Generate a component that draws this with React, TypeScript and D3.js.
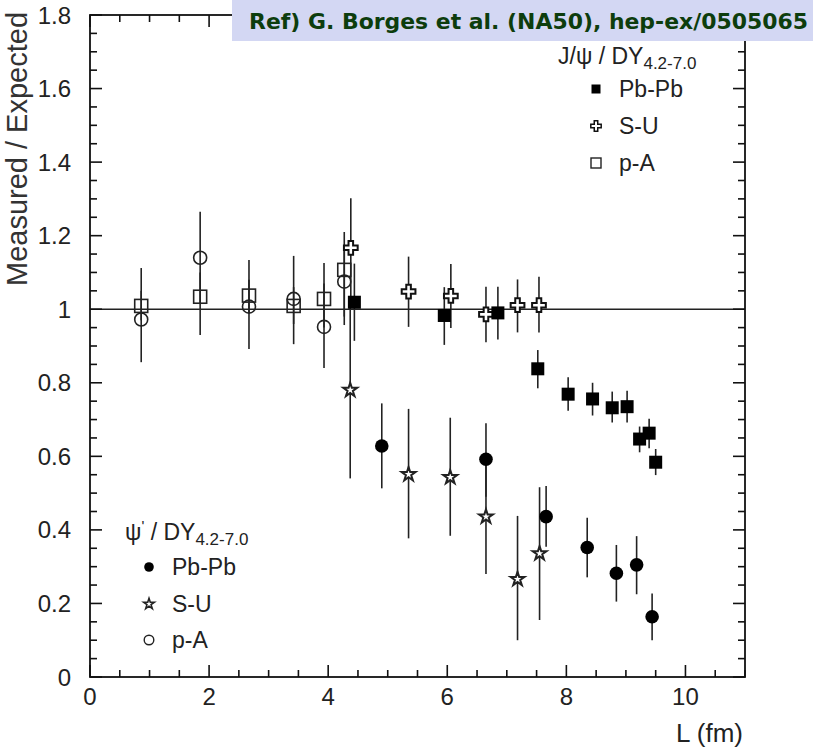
import React from "react";
import * as d3 from "d3";

// ---------- data ----------
const xTicks = [0, 2, 4, 6, 8, 10];
const yTicks = [0, 0.2, 0.4, 0.6, 0.8, 1, 1.2, 1.4, 1.6, 1.8];
const yTickLabels = ["0", "0.2", "0.4", "0.6", "0.8", "1", "1.2", "1.4", "1.6", "1.8"];

// J/psi p-A (open squares)
const jpA_L = [0.86, 1.85, 2.67, 3.42, 3.93, 4.27];
const jpA_v = [1.009, 1.034, 1.037, 1.009, 1.028, 1.107];
const jpA_lo = [0.97, 0.93, 0.99, 0.96, 0.95, 0.957];
const jpA_hi = [1.05, 1.10, 1.08, 1.06, 1.126, 1.21];

// psi' p-A (open circles)
const ppA_L = [0.86, 1.85, 2.67, 3.42, 3.93, 4.27];
const ppA_v = [0.972, 1.14, 1.007, 1.028, 0.952, 1.075];
const ppA_lo = [0.856, 1.015, 0.892, 0.905, 0.84, 0.98];
const ppA_hi = [1.112, 1.265, 1.134, 1.145, 1.07, 1.17];

// J/psi S-U (open crosses)
const jSU_L = [4.38, 5.35, 6.06, 6.65, 7.18, 7.54];
const jSU_v = [1.167, 1.048, 1.036, 0.986, 1.011, 1.011];
const jSU_lo = [1.03, 0.952, 0.949, 0.91, 0.937, 0.937];
const jSU_hi = [1.302, 1.143, 1.123, 1.061, 1.081, 1.088];

// J/psi Pb-Pb (filled squares)
const jPb_L = [4.44, 5.95, 6.85, 7.52, 8.03, 8.44, 8.77, 9.02, 9.23, 9.39, 9.5];
const jPb_v = [1.019, 0.983, 0.99, 0.838, 0.769, 0.756, 0.732, 0.735, 0.647, 0.663, 0.584];
const jPb_lo = [0.914, 0.903, 0.918, 0.785, 0.724, 0.711, 0.692, 0.692, 0.611, 0.622, 0.549];
const jPb_hi = [1.124, 1.06, 1.061, 0.889, 0.815, 0.8, 0.776, 0.778, 0.681, 0.702, 0.62];

// psi' S-U (open stars)
const pSU_L = [4.37, 5.35, 6.05, 6.65, 7.18, 7.55];
const pSU_v = [0.78, 0.551, 0.543, 0.436, 0.266, 0.336];
const pSU_lo = [0.54, 0.377, 0.384, 0.28, 0.1, 0.155];
const pSU_hi = [1.03, 0.729, 0.705, 0.586, 0.438, 0.516];

// psi' Pb-Pb (filled circles)
const pPb_L = [4.9, 6.65, 7.66, 8.35, 8.84, 9.18, 9.44];
const pPb_v = [0.628, 0.592, 0.436, 0.352, 0.282, 0.305, 0.164];
const pPb_lo = [0.513, 0.49, 0.354, 0.271, 0.205, 0.225, 0.1];
const pPb_hi = [0.744, 0.69, 0.519, 0.433, 0.359, 0.383, 0.227];

// ---------- layout ----------
const W = 813;
const H = 748;
const left = 90, right = 745, top = 15, bottom = 677;
const FONT = "'Liberation Sans', Arial, sans-serif";

export default function App() {
  const x = d3.scaleLinear().domain([0, 11]).range([left, right]);
  const y = d3.scaleLinear().domain([0, 1.8]).range([bottom, top]);

  const xMinor = d3.range(0, 11.001, 0.5);
  const yMinor = d3.range(0, 1.8001, 0.05);
  const isMajorX = (v: number) => Math.abs(v / 2 - Math.round(v / 2)) < 1e-6;
  const isMajorY = (v: number) => Math.abs(v / 0.2 - Math.round(v / 0.2)) < 1e-6;

  const crossPath = d3.symbol().type(d3.symbolCross).size(105)()!;
  const crossPathSm = d3.symbol().type(d3.symbolCross).size(60)()!;
  const starPath = d3.symbol().type(d3.symbolStar).size(60)()!;
  const starPathSm = d3.symbol().type(d3.symbolStar).size(36)()!;

  const err = (Ls: number[], lo: number[], hi: number[], key: string) =>
    Ls.map((L, i) => (
      <line key={key + i} x1={x(L)} x2={x(L)} y1={y(lo[i])} y2={y(hi[i])} stroke="#222" strokeWidth={1.6} />
    ));

  const sq = 13;
  const osq = 13;
  const LF = 23;
  const SF = 17;

  return (
    <svg width={W} height={H} style={{ position: "absolute", left: 0, top: 0, background: "#fff" }} fontFamily={FONT}>
      <rect x={0} y={0} width={W} height={H} fill="#fff" />

      {/* error bars */}
      {err(ppA_L, ppA_lo, ppA_hi, "epa")}
      {err(jpA_L, jpA_lo, jpA_hi, "eja")}
      {err(pSU_L, pSU_lo, pSU_hi, "eps")}
      {err(jSU_L, jSU_lo, jSU_hi, "ejs")}
      {err(pPb_L, pPb_lo, pPb_hi, "epp")}
      {err(jPb_L, jPb_lo, jPb_hi, "ejp")}

      {/* reference line at 1 */}
      <line x1={left} x2={right} y1={y(1)} y2={y(1)} stroke="#222" strokeWidth={1.6} />

      {/* psi' p-A open circles */}
      {ppA_L.map((L, i) => (
        <circle key={"pa" + i} cx={x(L)} cy={y(ppA_v[i])} r={6.5} fill="none" stroke="#222" strokeWidth={1.6} />
      ))}
      {/* J/psi p-A open squares */}
      {jpA_L.map((L, i) => (
        <rect key={"ja" + i} x={x(L) - osq / 2} y={y(jpA_v[i]) - osq / 2} width={osq} height={osq} fill="none" stroke="#222" strokeWidth={1.6} />
      ))}
      {/* psi' S-U stars */}
      {pSU_L.map((L, i) => (
        <path key={"ps" + i} d={starPath} transform={`translate(${x(L)},${y(pSU_v[i])})`} fill="#fff" stroke="#222" strokeWidth={2} strokeLinejoin="miter" />
      ))}
      {/* J/psi S-U crosses */}
      {jSU_L.map((L, i) => (
        <path key={"js" + i} d={crossPath} transform={`translate(${x(L)},${y(jSU_v[i])})`} fill="#fff" stroke="#111" strokeWidth={2} />
      ))}
      {/* psi' Pb-Pb filled circles */}
      {pPb_L.map((L, i) => (
        <circle key={"pp" + i} cx={x(L)} cy={y(pPb_v[i])} r={6.8} fill="#000" />
      ))}
      {/* J/psi Pb-Pb filled squares */}
      {jPb_L.map((L, i) => (
        <rect key={"jp" + i} x={x(L) - sq / 2} y={y(jPb_v[i]) - sq / 2} width={sq} height={sq} fill="#000" />
      ))}

      {/* frame */}
      <rect x={left} y={top} width={right - left} height={bottom - top} fill="none" stroke="#111" strokeWidth={1.8} />

      {/* x ticks (bottom & top, inward) */}
      {xMinor.map((v) => {
        const len = isMajorX(v) ? 12 : 7;
        return (
          <g key={"xt" + v}>
            <line x1={x(v)} x2={x(v)} y1={bottom} y2={bottom - len} stroke="#111" strokeWidth={1.6} />
            <line x1={x(v)} x2={x(v)} y1={top} y2={top + len} stroke="#111" strokeWidth={1.6} />
          </g>
        );
      })}
      {/* y ticks (left & right, inward) */}
      {yMinor.map((v) => {
        const len = isMajorY(v) ? 12 : 7;
        return (
          <g key={"yt" + v}>
            <line x1={left} x2={left + len} y1={y(v)} y2={y(v)} stroke="#111" strokeWidth={1.6} />
            <line x1={right} x2={right - len} y1={y(v)} y2={y(v)} stroke="#111" strokeWidth={1.6} />
          </g>
        );
      })}

      {/* tick labels */}
      {xTicks.map((v) => (
        <text key={"xl" + v} x={x(v)} y={705} textAnchor="middle" fontSize={24} fill="#222">
          {String(v)}
        </text>
      ))}
      {yTicks.map((v, i) => (
        <text key={"yl" + v} x={71} y={y(v) + 8.5} textAnchor="end" fontSize={24} fill="#222">
          {yTickLabels[i]}
        </text>
      ))}

      {/* axis titles */}
      <text x={743} y={742} textAnchor="end" fontSize={26} fill="#222">L (fm)</text>
      <text transform="translate(27,149) rotate(-90)" textAnchor="middle" fontSize={29} fill="#333">
        Measured / Expected
      </text>

      {/* J/psi legend */}
      <text x={558} y={64} fontSize={LF} fill="#222">
        J/ψ / DY<tspan fontSize={SF} dy={5}>4.2-7.0</tspan>
      </text>
      <rect x={596 - 4.5} y={89 - 4.5} width={9} height={9} fill="#000" />
      <text x={619} y={97} fontSize={LF} fill="#222">Pb-Pb</text>
      <path d={crossPathSm} transform="translate(596,126)" fill="#fff" stroke="#111" strokeWidth={1.5} />
      <text x={619} y={134} fontSize={LF} fill="#222">S-U</text>
      <rect x={596 - 5} y={163 - 5} width={10} height={10} fill="none" stroke="#222" strokeWidth={1.4} />
      <text x={619} y={171} fontSize={LF} fill="#222">p-A</text>

      {/* psi' legend */}
      <text x={125} y={540} fontSize={LF} fill="#222">
        ψ<tspan fontSize={15} dy={-9}>'</tspan><tspan dy={9}> / DY</tspan><tspan fontSize={SF} dy={5}>4.2-7.0</tspan>
      </text>
      <circle cx={149} cy={567} r={4.8} fill="#000" />
      <text x={172} y={575} fontSize={LF} fill="#222">Pb-Pb</text>
      <path d={starPathSm} transform="translate(149,604)" fill="#fff" stroke="#222" strokeWidth={1.6} />
      <text x={172} y={612} fontSize={LF} fill="#222">S-U</text>
      <circle cx={149} cy={640} r={4.8} fill="none" stroke="#222" strokeWidth={1.4} />
      <text x={172} y={648} fontSize={LF} fill="#222">p-A</text>

      {/* reference banner */}
      <rect x={232} y={0} width={W - 232} height={41} fill="#d3d7f3" />
      <text x={249} y={29} fontSize={21} fontWeight="bold" fill="#0d3d0d" textLength={559} lengthAdjust="spacingAndGlyphs" fontFamily="'DejaVu Sans', Verdana, sans-serif">
        Ref) G. Borges et al. (NA50), hep-ex/0505065
      </text>
    </svg>
  );
}
